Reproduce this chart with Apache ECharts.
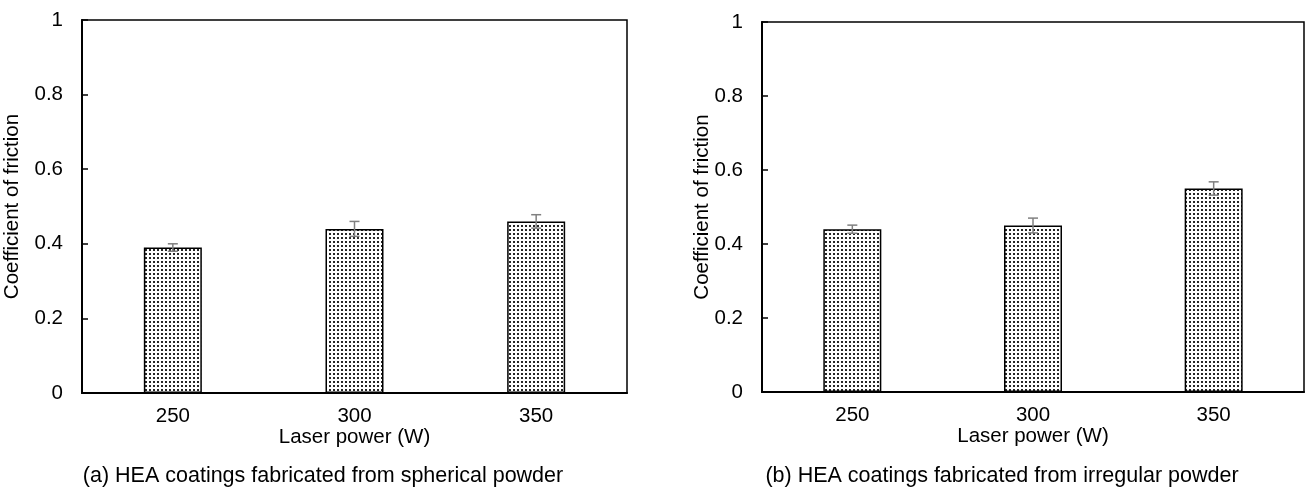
<!DOCTYPE html>
<html>
<head>
<meta charset="utf-8">
<script src="https://cdn.jsdelivr.net/npm/echarts@6/dist/echarts.min.js"></script>
<style>
  html, body { margin: 0; padding: 0; background: #fff; }
  #chart { width: 1307px; height: 488px; }
</style>
</head>
<body>
<div id="chart"></div>
<script>
// Laser power levels (W)
const categories = ['250', '300', '350'];
// Mean coefficient of friction and its spread, spherical powder
const cofSpherical = [0.39, 0.44, 0.46];
const errSpherical = [0.01, 0.02, 0.018];
// Mean coefficient of friction and its spread, irregular powder
const cofIrregular = [0.44, 0.45, 0.55];
const errIrregular = [0.011, 0.02, 0.018];
// Value-axis tick labels
const yTicks = [0, 0.2, 0.4, 0.6, 0.8, 1];
const captions = [
  '(a) HEA coatings fabricated from spherical powder',
  '(b) HEA coatings fabricated from irregular powder'
];

const FONT = 'Liberation Sans, Arial, sans-serif';
const FS = 20.5;
const FS_CAPTION = 21.5;

// Dotted fill for the bars: a fine grid of dark dots
function dotPattern() {
  const c = document.createElement('canvas');
  c.width = 4; c.height = 4;
  const g = c.getContext('2d');
  g.fillStyle = '#ffffff';
  g.fillRect(0, 0, 4, 4);
  g.fillStyle = '#262626';
  g.fillRect(1, 1, 2, 2);
  return c;
}
const pattern = { image: dotPattern(), repeat: 'repeat' };

function xAxisFor(idx) {
  return {
    type: 'category', gridIndex: idx, data: categories,
    axisLine: { show: true, lineStyle: { color: '#000', width: 2 } },
    axisTick: { show: false },
    axisLabel: { color: '#000', fontSize: FS, fontFamily: FONT, margin: 13 },
    name: 'Laser power (W)', nameLocation: 'middle', nameGap: 34,
    nameMoveOverlap: false,
    nameTextStyle: { color: '#000', fontSize: FS, fontFamily: FONT }
  };
}
function yAxisFor(idx, gap) {
  return {
    type: 'value', gridIndex: idx, min: yTicks[0], max: yTicks[yTicks.length - 1],
    interval: yTicks[1] - yTicks[0],
    axisLine: { show: true, lineStyle: { color: '#000', width: 2 } },
    axisTick: { show: true, inside: true, length: 6, lineStyle: { color: '#000', width: 1.5 } },
    splitLine: { show: false },
    axisLabel: { color: '#000', fontSize: FS, fontFamily: FONT, margin: 19,
      formatter: v => String(Math.round(v * 10) / 10) },
    name: 'Coefficient of friction', nameLocation: 'middle', nameGap: gap,
    nameMoveOverlap: false,
    nameTextStyle: { color: '#000', fontSize: FS, fontFamily: FONT }
  };
}
function barSeries(idx, values) {
  return {
    type: 'bar', xAxisIndex: idx, yAxisIndex: idx, data: values,
    barWidth: 58,
    itemStyle: { color: pattern, borderColor: '#000', borderWidth: 1.5 },
    silent: true
  };
}
function errorSeries(idx, values, errs) {
  return {
    type: 'custom', xAxisIndex: idx, yAxisIndex: idx, z: 5, silent: true,
    data: values.map((v, i) => [i, v - errs[i], v + errs[i]]),
    renderItem: function (params, api) {
      const lo = api.coord([api.value(0), api.value(1)]);
      const hi = api.coord([api.value(0), api.value(2)]);
      const hw = 5;
      const st = { stroke: '#808080', lineWidth: 1.5 };
      return {
        type: 'group',
        children: [
          { type: 'line', shape: { x1: lo[0], y1: lo[1], x2: hi[0], y2: hi[1] }, style: st },
          { type: 'line', shape: { x1: hi[0] - hw, y1: hi[1], x2: hi[0] + hw, y2: hi[1] }, style: st },
          { type: 'line', shape: { x1: lo[0] - hw, y1: lo[1], x2: lo[0] + hw, y2: lo[1] }, style: st }
        ]
      };
    }
  };
}

const chart = echarts.init(document.getElementById('chart'), null, { renderer: 'canvas' });
chart.setOption({
  backgroundColor: '#fff',
  animation: false,
  grid: [
    { left: 82, right: 680, top: 20, bottom: 95, show: true, borderColor: '#000', borderWidth: 1.5, backgroundColor: 'transparent' },
    { left: 762, right: 3, top: 22, bottom: 96, show: true, borderColor: '#000', borderWidth: 1.5, backgroundColor: 'transparent' }
  ],
  xAxis: [xAxisFor(0), xAxisFor(1)],
  yAxis: [yAxisFor(0, 59), yAxisFor(1, 49)],
  title: [
    { text: captions[0], left: 318, top: 460, textAlign: 'center',
      textStyle: { color: '#000', fontSize: FS_CAPTION, fontWeight: 'normal', fontFamily: FONT } },
    { text: captions[1], left: 997, top: 460, textAlign: 'center',
      textStyle: { color: '#000', fontSize: FS_CAPTION, fontWeight: 'normal', fontFamily: FONT } }
  ],
  series: [
    barSeries(0, cofSpherical),
    errorSeries(0, cofSpherical, errSpherical),
    barSeries(1, cofIrregular),
    errorSeries(1, cofIrregular, errIrregular)
  ]
});
</script>
</body>
</html>
